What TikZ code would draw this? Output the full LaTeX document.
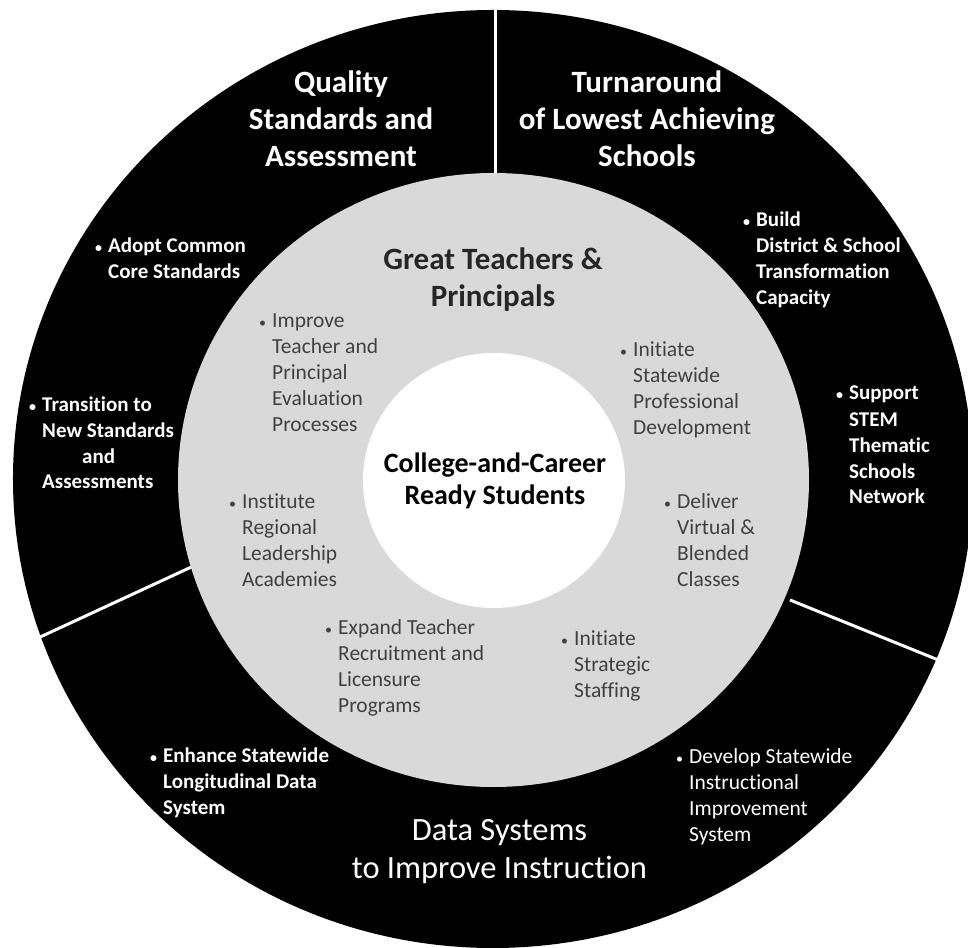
\documentclass[tikz,border=0pt]{standalone}
\usepackage{fontspec}
\setmainfont[Ligatures=NoCommon]{Carlito}
\usepackage{tikz}
\definecolor{ringgray}{HTML}{D9D9D9}
\definecolor{itemgray}{HTML}{404040}
\definecolor{headgray}{HTML}{262626}
\newcommand{\itembul}{\llap{{\fontsize{14}{14}\selectfont\textbullet}\hspace{6pt}}}

\begin{document}
\begin{tikzpicture}[x=1pt, y=1pt,
    heading/.style={white, font=\bfseries\fontsize{31}{37}\selectfont, align=center, anchor=base, inner sep=0pt},
    outeritem/.style={white, font=\bfseries\fontsize{21}{26}\selectfont, align=left, anchor=base west, inner sep=0pt},
    inneritem/.style={itemgray, font=\fontsize{21.5}{26}\selectfont, align=left, anchor=base west, inner sep=0pt}]
    \useasboundingbox (-493,-468) rectangle (475,479);

    % OUTER RING: the three areas
    \fill[black] (0,0) ellipse (480pt and 469pt);
    % Dividers between the areas
    \draw[white, line width=3pt] (2,472) -- (2,280);
    \draw[white, line width=3pt] (-455,-159) -- (-280,-78);
    \draw[white, line width=3pt] (297,-121) -- (480,-195);

    % MIDDLE RING
    \fill[ringgray] (0.5,-1) ellipse (315.5pt and 307pt);
    % CENTRE
    \fill[white] (1,-1.5) ellipse (131pt and 127.5pt);

    % Headings (placed at the baseline of their last line)
    \node[heading] (quality) at (-152,312) {Quality\\Standards and\\Assessment};
    \node[heading] (turnaround) at (154,312) {Turnaround\\of Lowest Achieving\\Schools};
    \node[heading, font=\fontsize{32.5}{38}\selectfont] (data) at (6.5,-399) {Data Systems\\to Improve Instruction};
    \node[heading, headgray] (teachers) at (0,172) {Great Teachers \&\\Principals};
    \node[heading, black, font=\bfseries\fontsize{28}{33}\selectfont] (students) at (2,-26) {College-and-Career\\Ready Students};

    % Items in the outer ring
    \node[outeritem] (adopt) at (-385,200) {\itembul Adopt Common\\Core Standards};
    \node[outeritem] (transition) at (-451,-10) {\itembul Transition to\\New Standards\\\hspace*{40pt}and\\Assessments};
    \node[outeritem] (build) at (263,174) {\itembul Build\\District \& School\\Transformation\\Capacity};
    \node[outeritem] (stem) at (356,-25) {\itembul Support\\STEM\\Thematic\\Schools\\Network};
    \node[outeritem] (enhance) at (-330,-335) {\itembul Enhance Statewide\\Longitudinal Data\\System};
    \node[outeritem, font=\fontsize{21.5}{26}\selectfont] (develop) at (196,-362) {\itembul Develop Statewide\\Instructional\\Improvement\\System};

    % Items in the middle ring
    \node[inneritem] (improve) at (-221,47) {\itembul Improve\\Teacher and\\Principal\\Evaluation\\Processes};
    \node[inneritem] (profdev) at (140,44) {\itembul Initiate\\Statewide\\Professional\\Development};
    \node[inneritem] (institute) at (-251,-107) {\itembul Institute\\Regional\\Leadership\\Academies};
    \node[inneritem] (deliver) at (184,-107) {\itembul Deliver\\Virtual \&\\Blended\\Classes};
    \node[inneritem] (expand) at (-155,-233) {\itembul Expand Teacher\\Recruitment and\\Licensure\\Programs};
    \node[inneritem] (staffing) at (81,-218) {\itembul Initiate\\Strategic\\Staffing};
\end{tikzpicture}
\end{document}
